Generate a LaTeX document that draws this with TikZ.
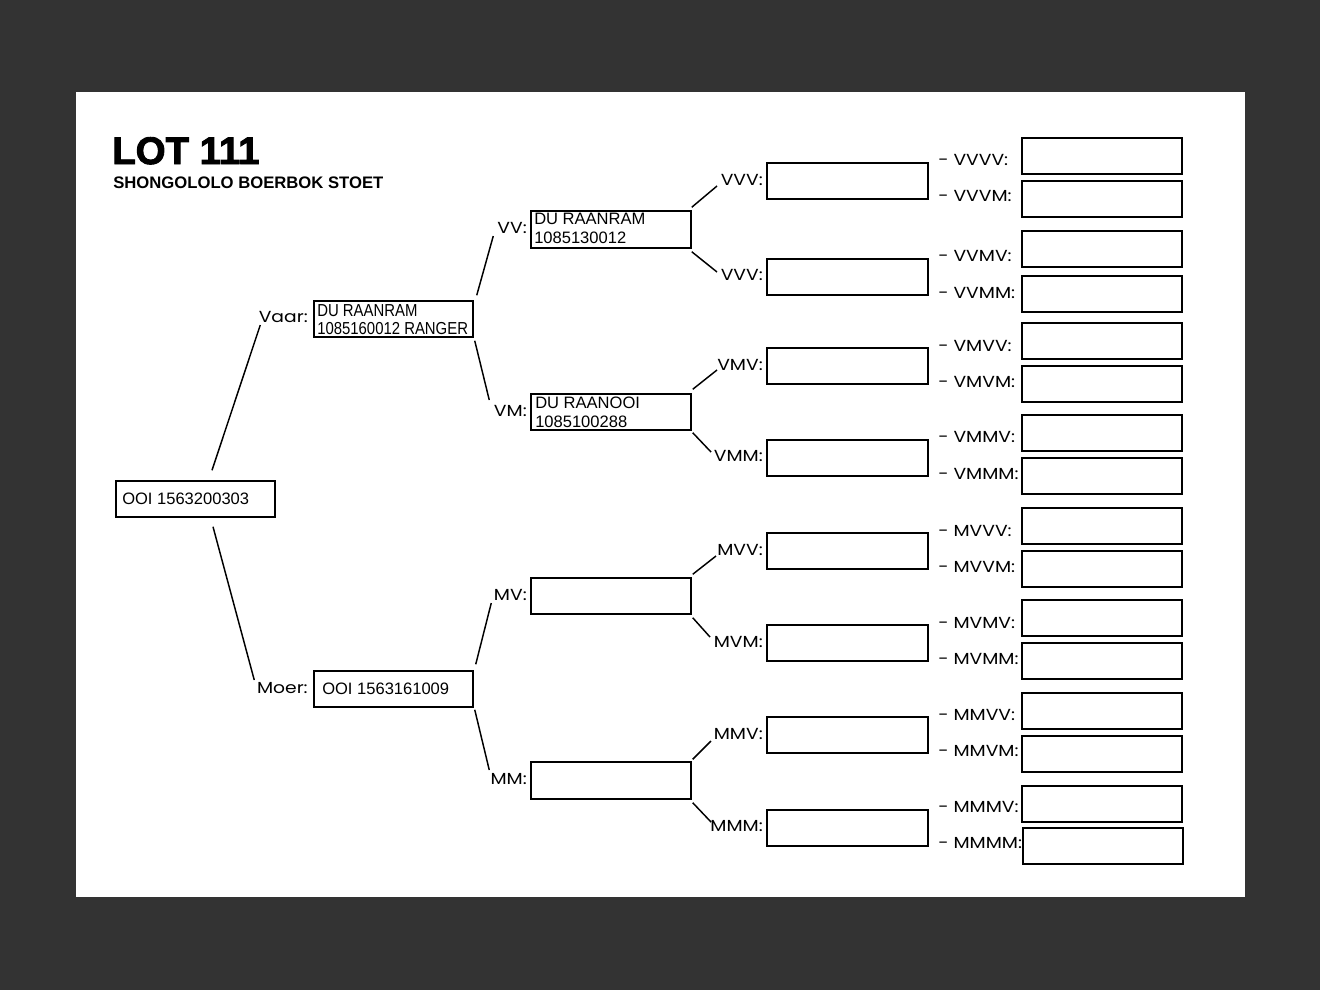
\documentclass[tikz,border=0pt]{standalone}
\usepackage{fontspec}
\setmainfont{Liberation Sans}
\newfontfamily\labfont[FakeStretch=1.17]{Poppins}
\newfontfamily\narrowfont[FakeStretch=0.86]{Liberation Sans}
\newfontfamily\heavyfont[FakeBold=2.4]{Liberation Sans Bold}
\definecolor{bgdark}{HTML}{333333}
\begin{document}
\begin{tikzpicture}[x=0.75pt,y=-0.75pt,
  box/.style={draw=black,line width=1.1pt,rectangle,inner sep=0pt,minimum width=119.25pt,minimum height=27pt},
  bigbox/.style={draw=black,line width=1.5pt,rectangle,inner sep=0pt,minimum width=120pt,minimum height=27pt},
  boxtxt/.style={inner sep=0pt,font=\fontsize{12.4}{14.2}\selectfont,align=left},
  smalltxt/.style={inner sep=0pt,font=\narrowfont\fontsize{13}{13.8}\selectfont,align=left},
  lab/.style={inner sep=0pt,font=\labfont\fontsize{12}{13}\selectfont},
  conn/.style={line width=1.1pt,black}]
\useasboundingbox (0,0) rectangle (1320,990);
\fill[bgdark] (0,0) rectangle (1320,990);
\fill[white] (76,92) rectangle (1245,897);
% title
\node[inner sep=0pt,anchor=base west,font=\heavyfont\fontsize{28.8}{30}\selectfont] (title) at (112,164) {LOT 111};
\node[inner sep=0pt,anchor=base west,font=\bfseries\fontsize{12.5}{14}\selectfont] (sub) at (113,188) {SHONGOLOLO BOERBOK STOET};
% generation 0-2 boxes
\node[box] (root) at (195.5,499) {};
\node[box] (vaar) at (393.5,319) {};
\node[box] (moer) at (393.5,689) {};
\node[box,minimum width=120pt,minimum height=27.75pt] (vv) at (611,229.5) {};
\node[box,minimum width=120pt] (vm) at (611,412) {};
\node[box,minimum width=120pt] (mv) at (611,596) {};
\node[box,minimum width=120pt,minimum height=27.75pt] (mm) at (611,780.5) {};
% box texts
\node[boxtxt,anchor=west] (roott) at (122,499) {OOI 1563200303};
\node[boxtxt,anchor=west] (moert) at (322,689) {OOI 1563161009};
\node[smalltxt,anchor=north west] (vaart) at (317,304) {DU RAANRAM\\1085160012 RANGER};
\node[boxtxt,anchor=north west] (vvt) at (534,213) {DU RAANRAM\\1085130012};
\node[boxtxt,anchor=north west] (vmt) at (535,397) {DU RAANOOI\\1085100288};
% generation 3 boxes
\foreach \n/\y in {vvv/181,vvm/277,vmv/366,vmm/458,mvv/551,mvm/643,mmv/735,mmm/828}
  \node[bigbox,minimum width=120.75pt] (\n) at (847.5,\y) {};
% generation 4 boxes
\foreach \n/\y in {vvvv/156,vvvm/199,vvmv/249,vvmm/294,vmvv/341,vmvm/384,vmmv/433,vmmm/476,mvvv/526,mvvm/569,mvmv/618,mvmm/661,mmvv/711,mmvm/754,mmmv/804}
  \node[bigbox] (\n) at (1102,\y) {};
\node[bigbox] (mmmm) at (1103,846) {};
% labels gen1
\node[lab,anchor=east] (lvaar) at (308,317) {Vaar:};
\node[lab,anchor=east] (lmoer) at (308,688) {Moer:};
% labels gen2
\node[lab,anchor=east] (lvv) at (527,228) {VV:};
\node[lab,anchor=east] (lvm) at (527,411) {VM:};
\node[lab,anchor=east] (lmv) at (527,595) {MV:};
\node[lab,anchor=east] (lmm) at (527,779) {MM:};
% labels gen3
\node[lab,anchor=east] (lvvv) at (763,180) {VVV:};
\node[lab,anchor=east] (lvvm) at (763,275) {VVV:};
\node[lab,anchor=east] (lvmv) at (763,365) {VMV:};
\node[lab,anchor=east] (lvmm) at (763,456) {VMM:};
\node[lab,anchor=east] (lmvv) at (763,550) {MVV:};
\node[lab,anchor=east] (lmvm) at (763,642) {MVM:};
\node[lab,anchor=east] (lmmv) at (763,734) {MMV:};
\node[lab,anchor=east] (lmmm) at (763,826) {MMM:};
% labels gen4
\foreach \n/\t/\y in {a/VVVV/160,b/VVVM/196,c/VVMV/256,d/VVMM/293,e/VMVV/346,f/VMVM/382,g/VMMV/437,h/VMMM/474,i/MVVV/531,j/MVVM/567,k/MVMV/623,l/MVMM/659,m/MMVV/715,n/MMVM/751,o/MMMV/807,p/MMMM/843}
  \node[lab,anchor=west] (l4\n) at (938,\y) {- \t:};
% connectors
\draw[conn] ([shift={(16.5,-10)}]root.north) -- ([shift={(-53,6)}]vaar.west);
\draw[conn] ([shift={(17.5,9)}]root.south) -- ([shift={(-59,-9)}]moer.west);
\draw[conn] ([shift={(3,-5)}]vaar.north east) -- ([shift={(-37,6.5)}]vv.west);
\draw[conn] ([shift={(1,3)}]vaar.south east) -- ([shift={(-41,-12)}]vm.west);
\draw[conn] ([shift={(2,-6)}]moer.north east) -- ([shift={(-39,7)}]mv.west);
\draw[conn] ([shift={(1,2)}]moer.south east) -- ([shift={(-41,-10.5)}]mm.west);
\draw[conn] ([shift={(0,-3)}]vv.north east) -- ([shift={(-49,5)}]vvv.west);
\draw[conn] ([shift={(0,3)}]vv.south east) -- ([shift={(-49,-5)}]vvm.west);
\draw[conn] ([shift={(1,-4)}]vm.north east) -- ([shift={(-49,4)}]vmv.west);
\draw[conn] ([shift={(1,2)}]vm.south east) -- ([shift={(-55,-6)}]vmm.west);
\draw[conn] ([shift={(1,-3)}]mv.north east) -- ([shift={(-50,5)}]mvv.west);
\draw[conn] ([shift={(1,3)}]mv.south east) -- ([shift={(-56,-6)}]mvm.west);
\draw[conn] ([shift={(1,-2)}]mm.north east) -- ([shift={(-55,6)}]mmv.west);
\draw[conn] ([shift={(1,3)}]mm.south east) -- ([shift={(-55,-6)}]mmm.west);
\end{tikzpicture}
\end{document}
